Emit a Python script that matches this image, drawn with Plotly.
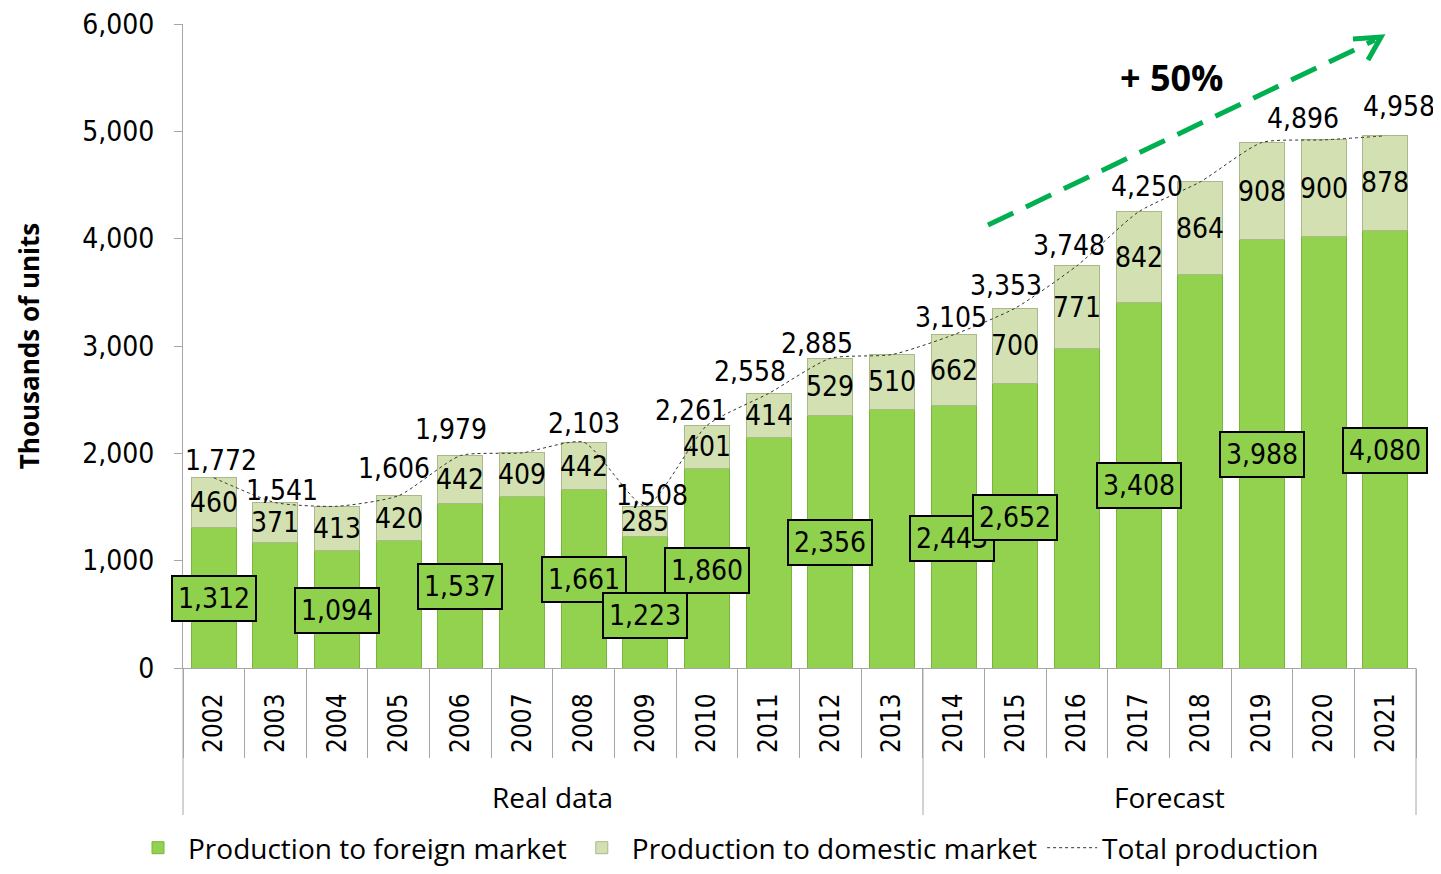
import plotly.graph_objects as go

years = [str(y) for y in range(2002, 2022)]
periods = ["Real data"] * 12 + ["Forecast"] * 8
foreign = [1312, 1170, 1094, 1186, 1537, 1595, 1661, 1223, 1860, 2144,
           2356, 2410, 2443, 2652, 2977, 3408, 3665, 3988, 4020, 4080]
domestic = [460, 371, 413, 420, 442, 409, 442, 285, 401, 414,
            529, 510, 662, 700, 771, 842, 864, 908, 900, 878]
total = [1772, 1541, 1507, 1606, 1979, 2004, 2103, 1508, 2261, 2558,
         2885, 2920, 3105, 3353, 3748, 4250, 4529, 4896, 4920, 4958]

# which labels are shown, as in the original
foreign_shown = ["2002", "2004", "2006", "2008", "2009", "2010", "2012",
                 "2014", "2015", "2017", "2019", "2021"]
total_shown = ["2002", "2003", "2005", "2006", "2008", "2009", "2010", "2011",
               "2012", "2014", "2015", "2016", "2017", "2019", "2021"]

# label placement (axis units / pixel shifts)
foreign_box_y = {"2002": 652, "2004": 540, "2006": 764, "2008": 829, "2009": 485,
                 "2010": 913, "2012": 1165, "2014": 1211, "2015": 1400,
                 "2017": 1696, "2019": 1985, "2021": 2022}
total_shift = {"2002": (7, 17), "2003": (7, 12), "2005": (-5, 27), "2006": (-9, 26),
               "2008": (0, 19), "2009": (7, 11), "2010": (-16, 15), "2011": (-19, 22),
               "2012": (-13, 15), "2014": (-3, 17), "2015": (-9, 23), "2016": (-8, 20),
               "2017": (8, 25), "2019": (41, 24), "2021": (14, 29)}

LABEL_FONT = "DejaVu Sans Condensed, DejaVu Sans, sans-serif"
TEXT_FONT = "Open Sans, sans-serif"

fig = go.Figure()
fig.add_trace(go.Bar(
    x=years, y=foreign, name="Production to foreign market",
    marker=dict(color="#92d24e", line=dict(color="#78b53a", width=1)),
))
fig.add_trace(go.Bar(
    x=years, y=domestic, name="Production to domestic market",
    marker=dict(color="#d3e1b2", line=dict(color="#a9b98a", width=1)),
))
fig.add_trace(go.Scatter(
    x=years, y=total, name="Total production", mode="lines",
    line=dict(color="#333333", width=1, dash="dot", shape="spline", smoothing=0.6),
))

annotations = []
for i, yr in enumerate(years):
    annotations.append(dict(
        x=i, y=foreign[i] + domestic[i] / 2, text=str(domestic[i]),
        showarrow=False, font=dict(family=LABEL_FONT, size=28, color="black"),
    ))
for i, yr in enumerate(years):
    if yr in total_shown:
        dx, dy = total_shift[yr]
        annotations.append(dict(
            x=i, y=total[i], text=f"{total[i]:,}", showarrow=False,
            xshift=dx, yshift=dy, font=dict(family=LABEL_FONT, size=28, color="black"),
        ))
for i, yr in enumerate(years):
    if yr in foreign_shown:
        annotations.append(dict(
            x=i, y=foreign_box_y[yr], text=f"{foreign[i]:,}", showarrow=False,
            xshift=-2 if yr == "2014" else 0,
            font=dict(family=LABEL_FONT, size=28, color="black"),
            bgcolor="#8fd04c", bordercolor="black", borderwidth=2, borderpad=5,
        ))

# plot area in screen pixels (page has an 8px body margin)
W, H, L, T = 1233, 644, 183, 24
FIG_W, FIG_H = 1433, 858
def px(x, y):
    return (x - L) / W, (T + H - y) / H

# group labels under the axis
n_real = periods.count("Real data")
annotations.append(dict(x=(n_real - 1) / 2, y=px(0, 797)[1], xref="x", yref="paper",
                        yanchor="middle", text="Real data", showarrow=False,
                        font=dict(family=TEXT_FONT, size=28, color="black")))
annotations.append(dict(x=n_real + (len(years) - n_real - 1) / 2, y=px(0, 797)[1],
                        xref="x", yref="paper", yanchor="middle", text="Forecast",
                        showarrow=False, font=dict(family=TEXT_FONT, size=28, color="black")))

# growth arrow
x0, y0 = px(988, 225)
x1, y1 = px(1375, 40)
lx, ly = px(1172, 77)
annotations.append(dict(x=lx, y=ly, xref="paper", yref="paper",
                        xanchor="center", yanchor="middle",
                        text="<b>+ 50%</b>", showarrow=False,
                        font=dict(family="Open Sans, sans-serif", size=36, color="black")))

shapes = [
    dict(type="line", xref="paper", yref="paper", x0=x0, y0=y0, x1=x1, y1=y1,
         line=dict(color="#00b050", width=5, dash="28px,14px")),
]
ta, tb, tc = px(1381, 37), px(1353, 39), px(1368, 60)
shapes.append(dict(type="path", xref="paper", yref="paper",
                   path=f"M{tb[0]},{tb[1]} L{ta[0]},{ta[1]} L{tc[0]},{tc[1]}",
                   line=dict(color="#00b050", width=5)))
for xp in [183, 923, 1416]:
    shapes.append(dict(type="line", xref="paper", yref="paper",
                       x0=px(xp, 0)[0], x1=px(xp, 0)[0], y0=0, y1=px(0, 815)[1],
                       line=dict(color="#a6a6a6", width=1)))

fig.update_layout(
    barmode="stack",
    bargap=0.27,
    width=FIG_W, height=FIG_H,
    margin=dict(l=175, r=25, t=16, b=198, autoexpand=False),
    plot_bgcolor="white", paper_bgcolor="white",
    showlegend=True,
    legend=dict(orientation="h", xref="container", x=(128 - 8) / FIG_W, xanchor="left",
                yref="container", y=1 - (848 - 8) / FIG_H, yanchor="middle",
                font=dict(family=TEXT_FONT, size=28, color="black"),
                itemwidth=50, traceorder="normal"),
    annotations=annotations,
    shapes=shapes,
    xaxis=dict(
        type="category", range=[-0.5, len(years) - 0.5], automargin=False,
        tickangle=-90, ticks="outside", tickson="boundaries",
        ticklen=89, tickcolor="#a6a6a6", showline=True, linecolor="#a6a6a6",
        ticklabelstandoff=14,
        tickfont=dict(family=LABEL_FONT, size=26, color="black"),
        showgrid=False,
    ),
    yaxis=dict(
        range=[0, 6000], tickvals=[0, 1000, 2000, 3000, 4000, 5000, 6000],
        tickformat=",", ticks="outside", ticklen=8, tickcolor="#a6a6a6",
        showline=True, linecolor="#a6a6a6", showgrid=False, zeroline=False,
        automargin=False, ticklabelstandoff=14, ticklabeloverflow="allow",
        tickfont=dict(family=LABEL_FONT, size=28, color="black"),
        title=dict(text="<b>Thousands of units</b>", standoff=35,
                   font=dict(family=TEXT_FONT, size=26, color="black")),
    ),
)

fig.write_html("out.html")
